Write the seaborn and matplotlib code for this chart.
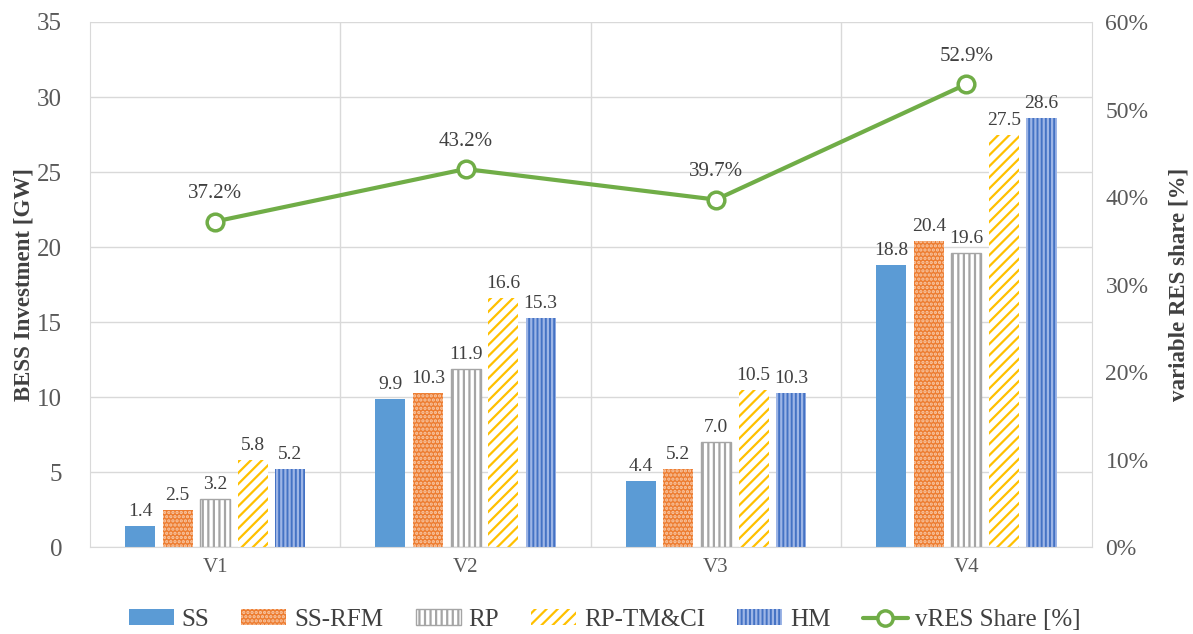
import pandas as pd
import matplotlib
matplotlib.use("Agg")
import matplotlib.pyplot as plt
import seaborn as sns
from matplotlib.patches import Patch
from matplotlib.lines import Line2D
from matplotlib.ticker import PercentFormatter

# data
scenarios = ["V1", "V2", "V3", "V4"]
models = ["SS", "SS-RFM", "RP", "RP-TM&CI", "HM"]
ss = [1.4, 9.9, 4.4, 18.8]
ss_rfm = [2.5, 10.3, 5.2, 20.4]
rp = [3.2, 11.9, 7.0, 19.6]
rp_tmci = [5.8, 16.6, 10.5, 27.5]
hm = [5.2, 15.3, 10.3, 28.6]
vres_share = [37.2, 43.2, 39.7, 52.9]

series = [ss, ss_rfm, rp, rp_tmci, hm]
rows = []
for m, vals in zip(models, series):
    for sc, v in zip(scenarios, vals):
        rows.append({"scenario": sc, "model": m, "value": v})
df = pd.DataFrame(rows)

# face, hatch colour, hatch pattern, edge width
styles = {
    "SS": ("#5B9BD5", "#5B9BD5", "", 0),
    "SS-RFM": ("#ED7D31", "#F8C9A8", "....", 0),
    "RP": ("white", "#A5A5A5", "|||", 1),
    "RP-TM&CI": ("white", "#FFC000", "///", 0),
    "HM": ("#4472C4", "#9DB5E6", "||||", 0),
}

sns.set_style("white")
plt.rcParams["font.family"] = ["Liberation Serif", "DejaVu Serif"]
plt.rcParams["hatch.linewidth"] = 1.6

fig = plt.figure(figsize=(11.93, 6.34), dpi=100)
ax = fig.add_axes([0.0754, 0.1372, 0.8396, 0.8281])

sns.barplot(data=df, x="scenario", y="value", hue="model", order=scenarios,
            hue_order=models, width=0.75, gap=0.2, legend=False, ax=ax)

for cont, m in zip(ax.containers, models):
    face, hc, hatch, lw = styles[m]
    for bar in cont:
        bar.set_facecolor(face)
        bar.set_edgecolor(hc)
        bar.set_hatch(hatch)
        bar.set_linewidth(lw)
    ax.bar_label(cont, fmt="%.1f", padding=4, fontsize=14, color="#404040")

ax.set_ylim(0, 35)
ax.set_yticks(range(0, 36, 5))
ax.set_xlim(-0.5, 3.5)
ax.yaxis.grid(True, color="#D9D9D9", lw=1)
ax.set_axisbelow(True)
for xv in [0.5, 1.5, 2.5]:
    ax.axvline(xv, color="#D9D9D9", lw=1, zorder=0)
ax.spines["top"].set_visible(False)
for s in ["left", "right", "bottom"]:
    ax.spines[s].set_color("#D9D9D9")
ax.set_xlabel("")
ax.set_ylabel("BESS Investment [GW]", fontsize=16.5, fontweight="bold",
              color="#404040", labelpad=2)
ax.tick_params(axis="y", labelsize=18, colors="#595959", length=0, pad=20)
ax.tick_params(axis="x", labelsize=15, colors="#595959", length=0, pad=8)

ax2 = ax.twinx()
sns.lineplot(x=scenarios, y=vres_share, ax=ax2, color="#70AD47", lw=3,
             marker="o", markersize=12, markerfacecolor="white",
             markeredgecolor="#70AD47", markeredgewidth=2.5, sort=False)
for i, v in enumerate(vres_share):
    ax2.annotate(f"{v:.1f}%", (i, v), xytext=(0, 20), textcoords="offset points",
                 ha="center", va="center", fontsize=15, color="#404040")
ax2.set_ylim(0, 60)
ax2.set_yticks(range(0, 61, 10))
ax2.yaxis.set_major_formatter(PercentFormatter(decimals=0))
ax2.tick_params(axis="y", labelsize=17, colors="#595959", length=0, pad=10)
ax2.set_ylabel("variable RES share [%]", fontsize=16.5, fontweight="bold",
               color="#404040", labelpad=14)
for s in ax2.spines.values():
    s.set_visible(False)

handles = []
for m in models:
    face, hc, hatch, lw = styles[m]
    handles.append(Patch(facecolor=face, edgecolor=hc, hatch=hatch, lw=lw, label=m))
handles.append(Line2D([], [], color="#70AD47", lw=3, marker="o", markersize=11,
                      markerfacecolor="white", markeredgecolor="#70AD47",
                      markeredgewidth=2.5, label="vRES Share [%]"))
fig.legend(handles=handles, loc="center", bbox_to_anchor=(0.507, 0.022),
           ncol=6, frameon=False, fontsize=18, handlelength=1.8, handleheight=0.6,
           columnspacing=1.3, handletextpad=0.3, labelcolor="#404040")

fig.savefig("out.png", dpi=100)
